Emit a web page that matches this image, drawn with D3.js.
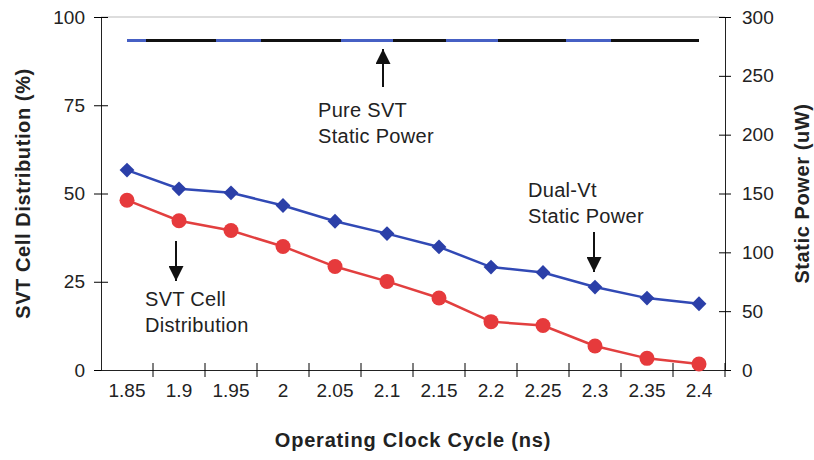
<!DOCTYPE html>
<html>
<head>
<meta charset="utf-8">
<script src="https://cdn.jsdelivr.net/npm/d3@7"></script>
<style>
  html, body { margin: 0; padding: 0; background: #fff; }
  svg { display: block; font-family: "Liberation Sans", Arial, sans-serif; }
  .tick text { fill: #222; }
</style>
</head>
<body>
<svg id="chart" width="814" height="460"></svg>
<script>
/* --------------------------------------------------------------
DATOS
-------------------------------------------------------------- */

const cycles = ["1.85", "1.9", "1.95", "2", "2.05", "2.1", "2.15", "2.2", "2.25", "2.3", "2.35", "2.4"];

// SVT cell distribution (%), eje izquierdo
const svtCells = [48.1, 42.3, 39.5, 35.0, 29.3, 25.1, 20.4, 13.7, 12.6, 6.8, 3.3, 1.7];

// Dual-Vt static power (uW), eje derecho
const dualVtPower = [169.9, 154.0, 150.6, 139.8, 126.4, 115.9, 104.6, 87.5, 82.9, 70.5, 61.1, 56.3];

// Pure SVT static power (uW), eje derecho
const pureSvtPower = [280, 280, 280, 280, 280, 280, 280, 280, 280, 280, 280, 280];

const leftTicks = [0, 25, 50, 75, 100];
const rightTicks = [0, 50, 100, 150, 200, 250, 300];

/* --------------------------------------------------------------
ESCALAS
-------------------------------------------------------------- */

const svg = d3.select("#chart");
const mLeft = 101, mRight = 725, mTop = 17, mBottom = 370;

const x = d3.scaleBand().domain(cycles).range([mLeft, mRight]);
const cx = d => x(d) + x.bandwidth() / 2;
const yL = d3.scaleLinear().domain([0, 100]).range([mBottom, mTop]);
const yR = d3.scaleLinear().domain([0, 300]).range([mBottom, mTop]);

/* --------------------------------------------------------------
EJES
-------------------------------------------------------------- */

// borde superior gris
svg.append("line")
    .attr("x1", mLeft).attr("x2", mRight)
    .attr("y1", mTop).attr("y2", mTop)
    .attr("stroke", "#bbb").attr("stroke-width", 1);

const gL = svg.append("g")
    .attr("transform", `translate(${mLeft},0)`)
    .call(d3.axisLeft(yL).tickValues(leftTicks).tickSize(7).tickPadding(9));
gL.selectAll(".tick line").attr("x1", 7);
gL.selectAll("text").attr("font-size", 19);

const gR = svg.append("g")
    .attr("transform", `translate(${mRight},0)`)
    .call(d3.axisRight(yR).tickValues(rightTicks).tickSize(6).tickPadding(11));
gR.selectAll(".tick line").attr("x1", -6);
gR.selectAll("text").attr("font-size", 19);

const gX = svg.append("g")
    .attr("transform", `translate(0,${mBottom})`)
    .call(d3.axisBottom(x).tickSize(0).tickPadding(14));
gX.selectAll("text").attr("font-size", 19);

// marcas del eje x entre categorías
gX.selectAll(".band-tick")
    .data(cycles)
    .enter()
    .append("line")
    .attr("class", "band-tick")
    .attr("x1", d => x(d) + x.bandwidth())
    .attr("x2", d => x(d) + x.bandwidth())
    .attr("y1", -7)
    .attr("y2", 7)
    .attr("stroke", "#000");

svg.selectAll(".domain").attr("stroke", "#222");

/* --------------------------------------------------------------
TÍTULOS DE EJES
-------------------------------------------------------------- */

svg.append("text")
    .attr("transform", `translate(30,${(mTop + mBottom) / 2}) rotate(-90)`)
    .attr("text-anchor", "middle")
    .attr("font-size", 20).attr("font-weight", "bold")
    .attr("letter-spacing", 0.6)
    .attr("fill", "#222")
    .text("SVT Cell Distribution (%)");

svg.append("text")
    .attr("transform", `translate(809,${(mTop + mBottom) / 2}) rotate(-90)`)
    .attr("text-anchor", "middle")
    .attr("font-size", 20).attr("font-weight", "bold")
    .attr("letter-spacing", 0.6)
    .attr("fill", "#222")
    .text("Static Power (uW)");

svg.append("text")
    .attr("x", (mLeft + mRight) / 2).attr("y", 447)
    .attr("text-anchor", "middle")
    .attr("font-size", 20).attr("font-weight", "bold")
    .attr("letter-spacing", 0.8)
    .attr("fill", "#222")
    .text("Operating Clock Cycle (ns)");

/* --------------------------------------------------------------
SERIES
-------------------------------------------------------------- */

const lineL = d3.line().x((d, i) => cx(cycles[i])).y(d => yL(d));
const lineR = d3.line().x((d, i) => cx(cycles[i])).y(d => yR(d));

// Pure SVT: casi negra con tramos azules (como el original escaneado)
svg.append("path")
    .datum(pureSvtPower)
    .attr("d", lineR)
    .attr("fill", "none")
    .attr("stroke", "#4660c4")
    .attr("stroke-width", 3);
svg.append("path")
    .datum(pureSvtPower)
    .attr("d", lineR)
    .attr("fill", "none")
    .attr("stroke", "#111")
    .attr("stroke-width", 3)
    .attr("stroke-dasharray", "0 19 70 45 80 52 53 52 68 45 93");

// Dual-Vt
svg.append("path")
    .datum(dualVtPower)
    .attr("d", lineR)
    .attr("fill", "none")
    .attr("stroke", "#3149b5")
    .attr("stroke-width", 2.5);

svg.selectAll(".diamond")
    .data(dualVtPower)
    .enter()
    .append("path")
    .attr("class", "diamond")
    .attr("d", d3.symbol(d3.symbolSquare, 110))
    .attr("transform", (d, i) => `translate(${cx(cycles[i])},${yR(d)}) rotate(45)`)
    .attr("fill", "#2b3fa8");

// SVT cell distribution
svg.append("path")
    .datum(svtCells)
    .attr("d", lineL)
    .attr("fill", "none")
    .attr("stroke", "#e23f3f")
    .attr("stroke-width", 2.5);

svg.selectAll(".dot")
    .data(svtCells)
    .enter()
    .append("circle")
    .attr("class", "dot")
    .attr("cx", (d, i) => cx(cycles[i]))
    .attr("cy", d => yL(d))
    .attr("r", 7.5)
    .attr("fill", "#e63a3c");

/* --------------------------------------------------------------
ANOTACIONES
-------------------------------------------------------------- */

svg.append("defs").append("marker")
    .attr("id", "head")
    .attr("viewBox", "0 0 10 10")
    .attr("refX", 10).attr("refY", 5)
    .attr("markerWidth", 15).attr("markerHeight", 15)
    .attr("markerUnits", "userSpaceOnUse")
    .attr("orient", "auto")
    .append("path")
    .attr("d", "M0,0 L10,5 L0,10 Z")
    .attr("fill", "#111");

function arrow(x0, y0, y1) {
    svg.append("line")
        .attr("x1", x0).attr("x2", x0)
        .attr("y1", y0).attr("y2", y1)
        .attr("stroke", "#111").attr("stroke-width", 2)
        .attr("marker-end", "url(#head)");
}

function label(x0, y0, lines) {
    const t = svg.append("text")
        .attr("x", x0).attr("y", y0)
        .attr("font-size", 20)
        .attr("letter-spacing", 0.3)
        .attr("fill", "#222");
    lines.forEach((s, i) => {
        t.append("tspan").attr("x", x0).attr("dy", i ? 26 : 0).text(s);
    });
}

arrow(383, 87, 49);
label(318, 117, ["Pure SVT", "Static Power"]);

arrow(594, 232, 272);
label(528, 197, ["Dual-Vt", "Static Power"]);

arrow(176, 241, 281);
label(145, 306, ["SVT Cell", "Distribution"]);
</script>
</body>
</html>
